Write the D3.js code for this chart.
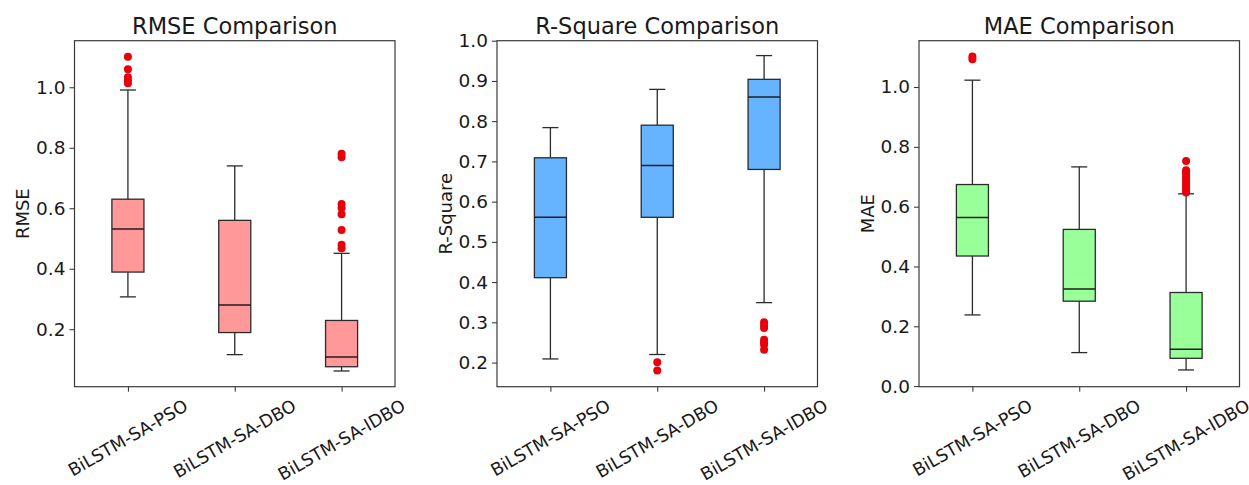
<!DOCTYPE html>
<html><head><meta charset="utf-8">
<script src="https://cdn.jsdelivr.net/npm/d3@7"></script>
<style>body{margin:0;background:#fff}svg{display:block}text{font-family:"DejaVu Sans",sans-serif;fill:#1a1a1a}</style>
</head><body><svg id="c" width="1249" height="485"></svg>
<script>
const categories = ["BiLSTM-SA-PSO", "BiLSTM-SA-DBO", "BiLSTM-SA-IDBO"];
// [whiskerLow, Q1, median, Q3, whiskerHigh]
const rmseBoxes = [[0.307, 0.389, 0.531, 0.630, 0.991], [0.116, 0.189, 0.280, 0.560, 0.740], [0.062, 0.076, 0.108, 0.229, 0.451]];
const rmseOutliers = [[1.101, 1.060, 1.033, 1.023, 1.013], [], [0.780, 0.769, 0.614, 0.601, 0.580, 0.528, 0.479, 0.468]];
const r2Boxes = [[0.209, 0.411, 0.561, 0.709, 0.784], [0.220, 0.561, 0.690, 0.790, 0.879], [0.349, 0.680, 0.860, 0.904, 0.963]];
const r2Outliers = [[], [0.201, 0.180], [0.300, 0.293, 0.286, 0.257, 0.250, 0.244, 0.232]];
const maeBoxes = [[0.238, 0.435, 0.564, 0.674, 1.023], [0.112, 0.284, 0.325, 0.524, 0.733], [0.054, 0.093, 0.123, 0.313, 0.643]];
const maeOutliers = [[1.102, 1.093], [], [0.753, 0.722, 0.715, 0.708, 0.700, 0.692, 0.684, 0.676, 0.668, 0.660, 0.653, 0.647]];
const rmseTicks = [0.2, 0.4, 0.6, 0.8, 1.0];
const r2Ticks = [0.2, 0.3, 0.4, 0.5, 0.6, 0.7, 0.8, 0.9, 1.0];
const maeTicks = [0.0, 0.2, 0.4, 0.6, 0.8, 1.0];
const titles = ["RMSE Comparison", "R-Square Comparison", "MAE Comparison"];
const yLabels = ["RMSE", "R-Square", "MAE"];
const fills = ["#ff9999", "#66b3ff", "#99ff99"];

const panels = [
  {boxes: rmseBoxes, outl: rmseOutliers, ticks: rmseTicks, domain: [0.010, 1.154], left: 74.5, ylx: 22},
  {boxes: r2Boxes, outl: r2Outliers, ticks: r2Ticks, domain: [0.140, 1.0], left: 497, ylx: 445},
  {boxes: maeBoxes, outl: maeOutliers, ticks: maeTicks, domain: [-0.002, 1.155], left: 919, ylx: 867}
];
const plotTop = 40.7, plotBottom = 386.7, pw = 320.5;
const svg = d3.select("#c");
const line = "#2b2b2b";

panels.forEach((p, i) => {
  const g = svg.append("g");
  const x = d3.scaleLinear().domain([0.5, 3.5]).range([p.left, p.left + pw]);
  const y = d3.scaleLinear().domain(p.domain).range([plotBottom, plotTop]);
  const bw = x(0.3) - x(0);

  const ya = g.append("g").attr("transform", `translate(${p.left},0)`)
    .call(d3.axisLeft(y).tickValues(p.ticks).tickFormat(d3.format(".1f")).tickSize(5).tickPadding(4));
  ya.select(".domain").remove();
  ya.selectAll("line").attr("stroke", line).attr("stroke-width", 1);
  ya.selectAll("text").attr("font-size", 18.5).attr("fill", "#1a1a1a").attr("font-family", "DejaVu Sans");

  const xa = g.append("g").attr("transform", `translate(0,${plotBottom})`)
    .call(d3.axisBottom(x).tickValues([1, 2, 3]).tickFormat("").tickSize(5));
  xa.select(".domain").remove();
  xa.selectAll("line").attr("stroke", line).attr("stroke-width", 1);

  categories.forEach((c, k) => {
    const fs = 17.5;
    const t = g.append("text").attr("font-size", fs).attr("text-anchor", "middle")
      .attr("dominant-baseline", "central").text(c);
    const L = t.node().getComputedTextLength();
    const h = fs * 1.0;
    const bh = L * 0.5 + h * 0.866;
    const cx = x(k + 1), cy = plotBottom + 10 + bh / 2;
    t.attr("transform", `translate(${cx},${cy}) rotate(-30)`);
  });

  p.boxes.forEach((b, k) => {
    const cx = x(k + 1);
    const [lo, q1, med, q3, hi] = b;
    g.append("line").attr("x1", cx).attr("x2", cx).attr("y1", y(q3)).attr("y2", y(hi)).attr("stroke", line).attr("stroke-width", 1.3);
    g.append("line").attr("x1", cx).attr("x2", cx).attr("y1", y(q1)).attr("y2", y(lo)).attr("stroke", line).attr("stroke-width", 1.3);
    [lo, hi].forEach(v => g.append("line").attr("x1", cx - bw / 4).attr("x2", cx + bw / 4)
      .attr("y1", y(v)).attr("y2", y(v)).attr("stroke", line).attr("stroke-width", 1.3));
    g.append("rect").attr("x", cx - bw / 2).attr("width", bw).attr("y", y(q3)).attr("height", y(q1) - y(q3))
      .attr("fill", fills[i]).attr("stroke", line).attr("stroke-width", 1.3);
    g.append("line").attr("x1", cx - bw / 2).attr("x2", cx + bw / 2).attr("y1", y(med)).attr("y2", y(med))
      .attr("stroke", "#1e1e1e").attr("stroke-width", 1.5);
    p.outl[k].forEach(v => g.append("circle").attr("cx", cx).attr("cy", y(v)).attr("r", 4).attr("fill", "#e8000b"));
  });

  g.append("rect").attr("x", p.left).attr("y", plotTop).attr("width", pw).attr("height", plotBottom - plotTop)
    .attr("fill", "none").attr("stroke", "#3a3a3a").attr("stroke-width", 1.2);

  g.append("text").attr("x", p.left + pw / 2).attr("y", 34).attr("text-anchor", "middle")
    .attr("font-size", 22.5).text(titles[i]);
  g.append("text").attr("transform", `translate(${p.ylx},${(plotTop + plotBottom) / 2}) rotate(-90)`)
    .attr("text-anchor", "middle").attr("dominant-baseline", "central").attr("font-size", 18).text(yLabels[i]);
});
</script></body></html>
